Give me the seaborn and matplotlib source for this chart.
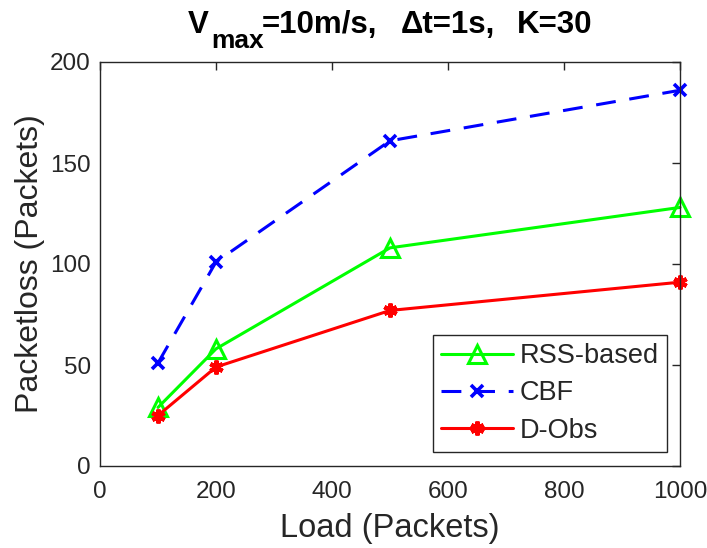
import matplotlib
matplotlib.use("Agg")
import matplotlib.pyplot as plt
import seaborn as sns
import pandas as pd

# Load values (packets) and measured packet loss for each scheme
load = [100, 200, 500, 1000]
rss_based = [29, 58, 108, 128]
cbf = [51, 101, 161, 186]
d_obs = [25, 49, 77, 91]

schemes = ["RSS-based", "CBF", "D-Obs"]
x_ticks = [0, 200, 400, 600, 800, 1000]
y_ticks = [0, 50, 100, 150, 200]

sns.set_theme(style="white")
plt.rcParams["font.family"] = ["Liberation Sans", "DejaVu Sans"]

df = pd.concat([
    pd.DataFrame({"Load": load, "Loss": rss_based, "Scheme": "RSS-based"}),
    pd.DataFrame({"Load": load, "Loss": cbf, "Scheme": "CBF"}),
    pd.DataFrame({"Load": load, "Loss": d_obs, "Scheme": "D-Obs"}),
])

W, H = 707, 548
fig = plt.figure(figsize=(W / 100, H / 100), dpi=100)
ax = fig.add_axes([100 / W, 1 - 466 / H, 580 / W, 404 / H])

dark = "#262626"
palette = {"RSS-based": "#00ff00", "CBF": "#0000ff", "D-Obs": "#ff0000"}
dashes = {"RSS-based": "", "CBF": (6.5, 4.5), "D-Obs": ""}
markers = {"RSS-based": "^", "CBF": "X", "D-Obs": "*"}

sns.lineplot(data=df, x="Load", y="Loss", hue="Scheme", style="Scheme",
             hue_order=schemes, style_order=schemes,
             palette=palette, dashes=dashes, markers=markers, ax=ax,
             linewidth=2.2, markersize=11, legend=False)

# Marker styling per scheme: open triangle, cross, asterisk
for line, name in zip(ax.get_lines(), schemes):
    c = palette[name]
    line.set_clip_on(False)
    if name == "RSS-based":
        line.set_markerfacecolor("none")
        line.set_markeredgecolor(c)
        line.set_markeredgewidth(2.2)
        line.set_markersize(12.5)
    elif name == "CBF":
        line.set_marker("x")
        line.set_markeredgecolor(c)
        line.set_markeredgewidth(2.6)
        line.set_markersize(8)
    else:
        line.set_marker((6, 2, 0))
        line.set_markeredgecolor(c)
        line.set_markeredgewidth(3)
        line.set_markersize(10)

leg = ax.legend(ax.get_lines(), schemes, loc="lower right",
                bbox_to_anchor=(667 / W, 1 - 452 / H),
                bbox_transform=fig.transFigure, borderaxespad=0,
                fontsize=19.5, frameon=True, fancybox=False, edgecolor=dark,
                framealpha=1, handlelength=2.65, borderpad=0.3,
                labelspacing=0.42, handletextpad=0.25)
leg.get_frame().set_linewidth(1.0)

ax.set_xlim(0, 1000)
ax.set_ylim(0, 200)
ax.set_xticks(x_ticks)
ax.set_yticks(y_ticks)
ax.tick_params(direction="in", length=6, width=1, labelsize=17.5, colors=dark,
               top=True, right=True, labelcolor=dark)
ax.tick_params(axis="x", pad=11)
ax.tick_params(axis="y", pad=6.5)
for s in ax.spines.values():
    s.set_visible(True)
    s.set_color(dark)
    s.set_linewidth(1)

ax.set_xlabel("Load (Packets)", fontsize=23.5, color=dark, labelpad=7)
ax.set_ylabel("Packetloss (Packets)", fontsize=23, color=dark, labelpad=3.5)

# Title assembled from pieces so the subscript keeps a large size
def title_piece(x_px, base_px, s, size):
    fig.text(x_px / W, 1 - base_px / H, s, fontsize=size, fontweight="bold",
             color="black", ha="left", va="baseline")

title_piece(188, 33, "V", 22.5)
title_piece(211, 48, "max", 19)
title_piece(262, 33, "=10m/s,", 22.5)
title_piece(401, 33, "\u0394t=1s,", 22.5)
title_piece(517, 33, "K=30", 22.5)

fig.savefig("out.png", dpi=100, facecolor="white")
